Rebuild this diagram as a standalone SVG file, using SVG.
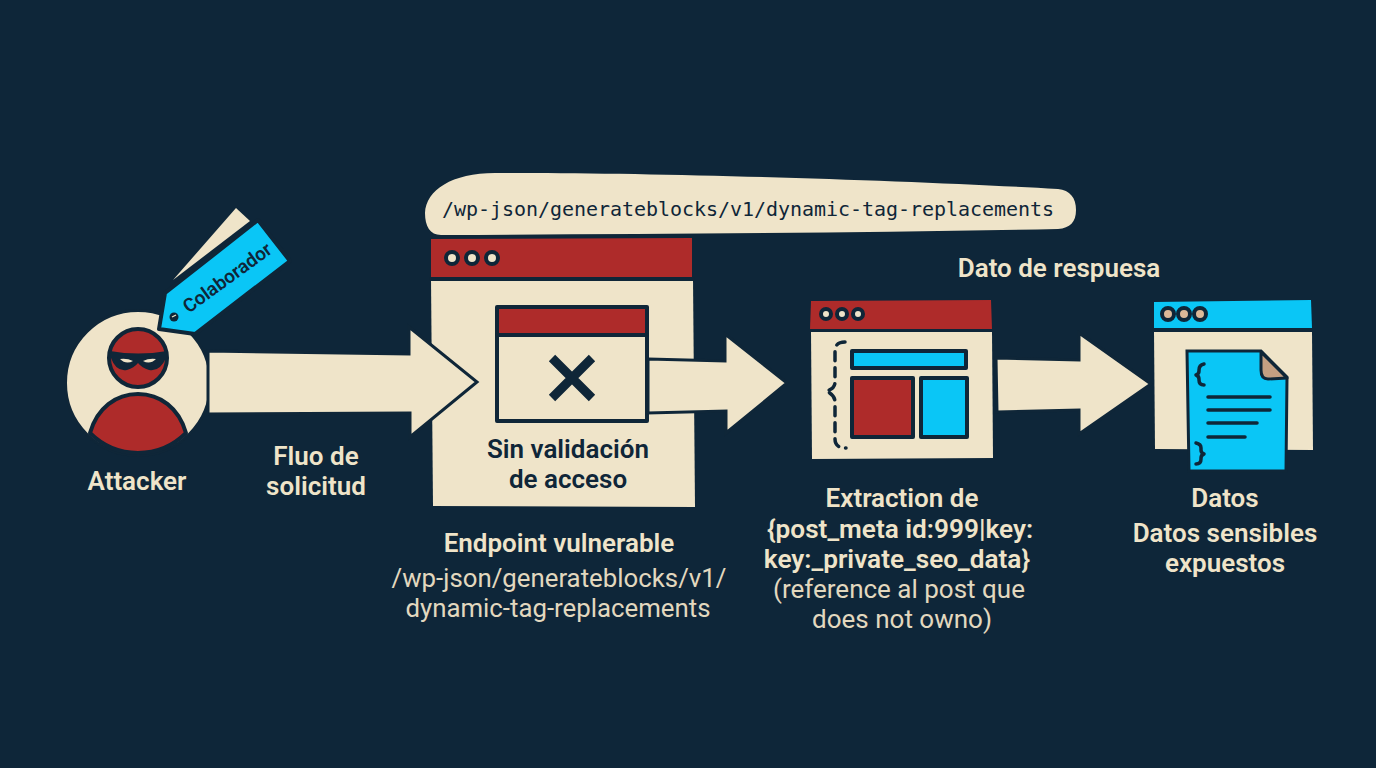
<svg xmlns="http://www.w3.org/2000/svg" width="1376" height="768" viewBox="0 0 1376 768">
<style>
.ln{stroke:#0f2638;stroke-width:4;stroke-linejoin:round;stroke-linecap:round}
.cream{fill:#efe4c9}.red{fill:#ae2b2a}.cyan{fill:#0ac6f6}.dark{fill:#0f2638}
.dot{stroke:#0f2638;stroke-width:4;fill:#efe4c9}
.thin{fill:none;stroke:#0f2638;stroke-width:3.5;stroke-linecap:round;stroke-linejoin:round}
.arrow{fill:#efe4c9;stroke:#0f2638;stroke-width:3;stroke-linejoin:miter}
text{font-family:Roboto,"Liberation Sans",sans-serif;text-anchor:middle;fill:#efe4c9;font-size:26px}
.b{font-weight:600}
.r{font-weight:400;fill:#e2d8bf}
.d{fill:#0f2638;font-weight:600}
.mono{font-family:"DejaVu Sans Mono","Liberation Mono",monospace;font-size:20px;fill:#0f2638;text-anchor:start}
</style>
<rect width="1376" height="768" fill="#0e2639"/>

<g id="attacker">
<path class="cream" d="M173 280L236 208L250 221Z"/>
<circle cx="138" cy="383" r="72.5" class="cream" stroke="#0f2638" stroke-width="3"/>
<circle cx="138" cy="358" r="29" class="red ln"/>
<path class="dark" d="M110 351Q138 356 167 351L166 358Q160 372 149 370Q142 368 138 363Q134 368 127 370Q116 372 111 358Z"/>
<path fill="#efe4c9" d="M120 359Q127 358 133 361Q126 365 120 359ZM156 359Q149 358 143 361Q150 365 156 359Z"/>
<path class="red ln" d="M90 433C97 408 116 394 138 394C160 394 179 408 186 433C172 447 155 453 138 453C121 453 104 447 90 433Z"/>
<path class="cyan ln" stroke-width="3" d="M159 329L165 293L258 220L290 261L195 334Z"/>
<circle cx="174" cy="317" r="4.5" class="dark"/>
<path d="M172 317L176 315" stroke="#efe4c9" stroke-width="1.3"/>
<text class="d" transform="translate(231 283) rotate(-36)" style="font-size:19px">Colaborador</text>
<text class="b" x="137" y="490">Attacker</text>
</g>

<g id="endpoint-url">
<path class="cream" d="M425 213C426 190 452 173 495 173C640 172 900 180 1058 189C1070 190 1076 198 1076 210C1076 222 1070 228 1058 229C850 233 640 234 441 235C430 235 425 226 425 213Z"/>
<text class="mono" x="442" y="216" textLength="612">/wp-json/generateblocks/v1/dynamic-tag-replacements</text>
</g>

<g id="endpoint">
<path class="cream" d="M431 279H693L695 507L433 506Z"/>
<path class="red" d="M431 239L692 238V277H431Z"/>
<path class="ln" fill="none" d="M431 279H693" stroke-width="3"/>
<circle class="dot" cx="452" cy="258" r="6"/><circle class="dot" cx="472" cy="258" r="6"/><circle class="dot" cx="492" cy="258" r="6"/>
<rect class="cream ln" x="497" y="307" width="150" height="114"/>
<rect class="red" x="499" y="309" width="146" height="25"/>
<path class="ln" d="M497 335H647" fill="none" stroke-width="3"/>
<path d="M552 358L592 398M592 358L552 398" stroke="#0f2638" stroke-width="9" fill="none"/>
<text class="d" x="568" y="458">Sin validación</text>
<text class="d" x="568" y="488">de acceso</text>
<text class="b" x="559" y="552">Endpoint vulnerable</text>
<text class="r" x="559" y="587" style="font-size:25.8px">/wp-json/generateblocks/v1/</text>
<text class="r" x="558" y="617" style="font-size:25.8px">dynamic-tag-replacements</text>
</g>

<g id="extraction">
<path class="cream" d="M811 332H992L993 458L812 459Z"/>
<path class="red" d="M811 301L991 300L992 329H810Z"/>
<circle class="dot" cx="826" cy="314" r="5"/><circle class="dot" cx="842" cy="314" r="5"/><circle class="dot" cx="858" cy="314" r="5"/>
<path class="thin" stroke-dasharray="9 7" d="M845 342Q835 342 835 351V382Q835 389 826 391Q835 395 835 402V439Q835 448 846 448"/>
<rect class="cyan ln" x="852" y="351" width="114" height="17" stroke-width="3.5"/>
<rect class="red ln" x="852" y="378" width="61" height="59"/>
<rect class="cyan ln" x="921" y="378" width="46" height="59"/>
<text class="b" x="902" y="507">Extraction de</text>
<text class="b" x="900" y="538" style="font-size:26.2px">{post_meta id:999|key:</text>
<text class="b" x="897" y="568" style="font-size:26.2px">key:_private_seo_data}</text>
<text class="r" x="899" y="598">(reference al post que</text>
<text class="r" x="902" y="628">does not owno)</text>
</g>

<g id="data">
<path class="cream" d="M1154 332H1312L1313 450L1155 449Z"/>
<path class="cyan" d="M1154 302L1311 300L1312 328H1154Z"/>
<circle class="dot" cx="1168" cy="314" r="6" style="fill:#dcb998"/><circle class="dot" cx="1184" cy="314" r="6" style="fill:#dcb998"/><circle class="dot" cx="1200" cy="314" r="6" style="fill:#dcb998"/>
<path class="cyan" stroke="#0f2638" stroke-width="3" d="M1187 351H1261L1287 377L1286 471H1189Z"/>
<path d="M1261 352L1287 378L1268 379Q1261 379 1261 370Z" fill="#c49f82" stroke="#0f2638" stroke-width="3" stroke-linejoin="round"/>
<path class="thin" d="M1208 397H1270M1208 410H1270M1208 423H1257M1208 437H1245"/>
<path class="thin" d="M1204 364Q1199 365 1199 370V371Q1199 374 1196 375Q1199 376 1199 379V380Q1199 385 1204 385M1196 443Q1201 444 1201 448V450Q1201 453 1204 454Q1201 455 1201 458V459Q1201 464 1196 464"/>
<text class="b" x="1225" y="507">Datos</text>
<text class="b" x="1225" y="542">Datos sensibles</text>
<text class="b" x="1225" y="572">expuestos</text>
<text class="b" x="1059" y="277">Dato de respuesa</text>
</g>

<g id="connectors">
<path class="arrow" d="M208 351L409 354V327L477 382L410 437V413L208 414Z"/>
<path class="arrow" d="M648 359L725 361V334L787 383L726 433V411L648 413Z"/>
<path class="arrow" d="M996 358L1079 360V333L1151 384L1079 434V410L997 412Z"/>
</g>

<g id="flow-label">
<text class="b" x="316" y="465">Fluo de</text>
<text class="b" x="316" y="495">solicitud</text>
</g>
</svg>
